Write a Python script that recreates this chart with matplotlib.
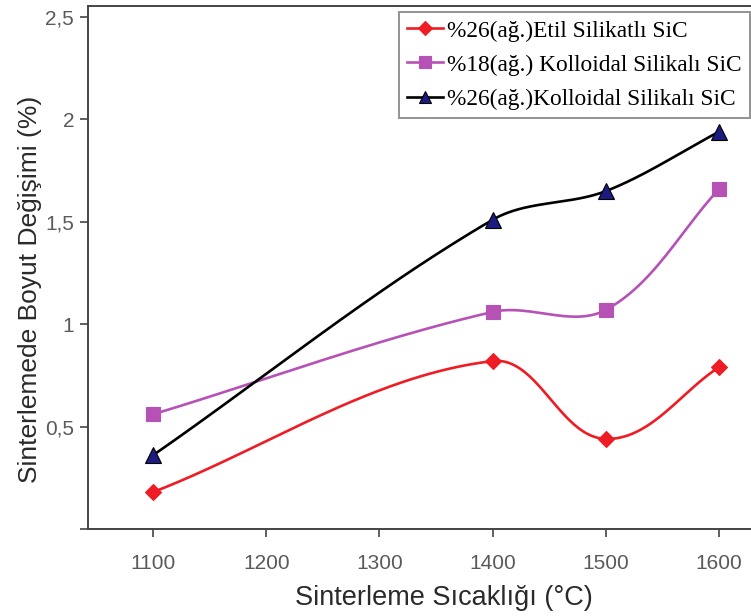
import numpy as np
import matplotlib
matplotlib.use("Agg")
import matplotlib.pyplot as plt
from matplotlib.ticker import FixedLocator

# Sintering temperature (°C) and dimensional change (%)
temperatures = [1100, 1400, 1500, 1600]
etil_26 = [0.18, 0.82, 0.44, 0.79]
kolloidal_18 = [0.56, 1.06, 1.07, 1.66]
kolloidal_26 = [0.36, 1.51, 1.65, 1.94]

series_labels = [
    "%26(ağ.)Etil Silikatlı SiC",
    "%18(ağ.) Kolloidal Silikalı SiC",
    "%26(ağ.)Kolloidal Silikalı SiC",
]
y_ticks = [0, 0.5, 1, 1.5, 2, 2.5]
y_tick_labels = ["", "0,5", "1", "1,5", "2", "2,5"]
x_ticks = [1100, 1200, 1300, 1400, 1500, 1600]


def smooth(ax, xs, ys, n=80):
    """Smoothed line through the points, built in screen space so the
    curve shape does not depend on the axis units."""
    data = np.column_stack([xs, ys]).astype(float)
    p = ax.transData.transform(data)
    m = len(p)
    out = []
    for i in range(m - 1):
        p0 = p[i - 1] if i > 0 else p[i]
        p1, p2 = p[i], p[i + 1]
        p3 = p[i + 2] if i + 2 < m else p[i + 1]
        seg_len = np.hypot(*(p2 - p1))
        d1 = p2 - p0
        d1 = d1 / np.hypot(*d1)
        d2 = p3 - p1
        d2 = d2 / np.hypot(*d2)
        c1 = p1 + d1 * seg_len / 3.0
        c2 = p2 - d2 * seg_len / 3.0
        t = np.linspace(0, 1, n)[:, None]
        seg = ((1 - t) ** 3) * p1 + 3 * ((1 - t) ** 2) * t * c1 \
            + 3 * (1 - t) * t ** 2 * c2 + t ** 3 * p2
        out.append(seg if i == 0 else seg[1:])
    pts = ax.transData.inverted().transform(np.vstack(out))
    return pts[:, 0], pts[:, 1]


fig = plt.figure(figsize=(7.51, 6.16), dpi=100)
ax = fig.add_axes([88 / 751, 87 / 616, 665 / 751, 523 / 616])
ax.set_xlim(1042.6, 1630)
ax.set_ylim(0, 2.554)

styles = [
    dict(color="#ee1c24", marker="D", mfc="#ee1c24", mec="#ee1c24", ms=8),
    dict(color="#b652b6", marker="s", mfc="#b652b6", mec="#b652b6", ms=10),
    dict(color="#000000", marker="^", mfc="#1c1c80", mec="#000000", ms=11),
]
handles = []
for ys, st, lab in zip([etil_26, kolloidal_18, kolloidal_26], styles, series_labels):
    sx, sy = smooth(ax, temperatures, ys)
    ax.plot(sx, sy, color=st["color"], lw=1.9, zorder=2)
    ax.plot(temperatures, ys, ls="none", marker=st["marker"], ms=st["ms"],
            mfc=st["mfc"], mec=st["mec"], mew=0.8, zorder=3)
    h, = ax.plot([], [], color=st["color"], lw=1.9, marker=st["marker"],
                 ms=st["ms"] * 0.85, mfc=st["mfc"], mec=st["mec"], mew=0.8)
    handles.append(h)

ax.xaxis.set_major_locator(FixedLocator(x_ticks))
ax.set_xticklabels([str(v) for v in x_ticks])
ax.yaxis.set_major_locator(FixedLocator(y_ticks))
ax.set_yticklabels(y_tick_labels)

for side in ["left", "bottom", "top"]:
    ax.spines[side].set_color("#444444")
    ax.spines[side].set_linewidth(1.4)
ax.spines["right"].set_visible(False)

ax.tick_params(axis="both", direction="out", length=6, width=1.2,
               color="#444444", labelcolor="#5a5a5a", labelsize=15,
               labelfontfamily="Liberation Sans")
ax.tick_params(axis="x", pad=12)
ax.tick_params(axis="y", pad=4)

fig.text(444 / 751, 1 - 598 / 616, "Sinterleme Sıcaklığı (°C)",
         ha="center", va="center", fontsize=19.5, color="#2a2a2a",
         family="Liberation Sans")
fig.text(30 / 751, 1 - 289 / 616, "Sinterlemede Boyut Değişimi (%)",
         ha="center", va="center", rotation=90, fontsize=19, color="#2a2a2a",
         family="Liberation Sans")

leg = ax.legend(handles, series_labels, loc="upper left",
                bbox_to_anchor=(399 / 751, 1 - 12 / 616),
                bbox_transform=fig.transFigure,
                prop={"family": "Liberation Serif", "size": 16.8},
                frameon=True, fancybox=False, borderpad=0.35,
                labelspacing=0.55, handlelength=1.55, handletextpad=0.15,
                borderaxespad=0)
leg.get_frame().set_edgecolor("#777777")
leg.get_frame().set_linewidth(1.4)

fig.savefig("out.png", dpi=100)
